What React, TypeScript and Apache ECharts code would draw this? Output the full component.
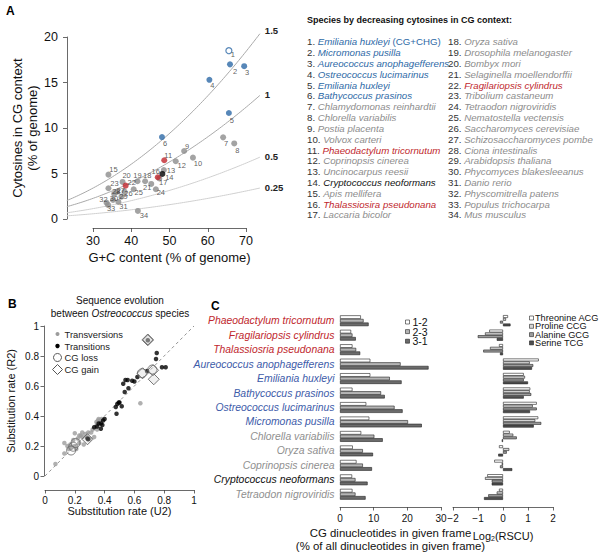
import React, { useEffect, useRef } from 'react';
import * as echarts from 'echarts';

const FONT = '"Liberation Sans", Arial, Helvetica, sans-serif';

// ---------------- Panel A data ----------------
const speciesNames = [
  'Emiliania huxleyi', 'Micromonas pusilla', 'Aureococcus anophagefferens', 'Ostreococcus lucimarinus',
  'Emiliania huxleyi', 'Bathycoccus prasinos', 'Chlamydomonas reinhardtii', 'Chlorella variabilis',
  'Postia placenta', 'Volvox carteri', 'Phaeodactylum tricornutum', 'Coprinopsis cinerea',
  'Uncinocarpus reesii', 'Cryptococcus neoformans', 'Apis mellifera', 'Thalassiosira pseudonana',
  'Laccaria bicolor', 'Oryza sativa', 'Drosophila melanogaster', 'Bombyx mori',
  'Selaginella moellendorffii', 'Fragilariopsis cylindrus', 'Tribolium castaneum', 'Tetraodon nigroviridis',
  'Nematostella vectensis', 'Saccharomyces cerevisiae', 'Schizosaccharomyces pombe', 'Ciona intestinalis',
  'Arabidopsis thaliana', 'Phycomyces blakesleeanus', 'Danio rerio', 'Physcomitrella patens',
  'Populus trichocarpa', 'Mus musculus',
];
const firstSpeciesNote = '(CG+CHG)';
const speciesGroup = [
  'open', 'blue', 'blue', 'blue', 'blue', 'blue', 'grey', 'grey', 'grey', 'grey',
  'red', 'grey', 'grey', 'black', 'grey', 'red', 'grey', 'grey', 'grey', 'grey',
  'grey', 'red', 'grey', 'grey', 'grey', 'grey', 'grey', 'grey', 'grey', 'grey',
  'grey', 'grey', 'grey', 'grey',
];
const gcContent = [
  65.6, 65.9, 69.6, 60.5, 65.6, 48.1, 64.1, 67.0, 53.9, 56.2,
  48.7, 51.7, 48.6, 48.2, 34.1, 47.0, 47.4, 43.7, 41.7, 37.8,
  45.3, 38.6, 34.1, 46.5, 40.7, 38.3, 36.3, 35.6, 37.5, 35.3,
  36.7, 33.6, 34.0, 41.8,
];
const cgCytosines = [
  18.5, 17.0, 16.8, 15.3, 11.65, 9.0, 8.97, 8.3, 7.47, 6.74,
  6.45, 6.34, 5.38, 4.95, 4.87, 4.58, 4.45, 4.14, 4.14, 4.07,
  3.85, 3.66, 3.37, 3.26, 3.26, 3.0, 2.98, 2.75, 2.45, 2.09,
  1.87, 1.79, 1.54, 0.88,
];
// label offsets (px) of the point numbers, relative to each dot
const pointLabelOffsets = [
  [4, 4], [5, 7], [3, 6], [3, 6], [3, 7], [3, 6], [3, 6], [3, 7], [3, -5], [5, 6],
  [4, -5], [6, 4], [7, 0], [7, 4], [5, -5], [-2, -6], [4, 4], [2, -6], [0, -6], [4, -6],
  [-4, 4], [6, -3], [6, -5], [5, 3], [5, 3], [4, 2], [4, -1], [2, -2], [2, 0], [1, -1],
  [5, 5], [-3, -3], [3, 4], [6, 5],
];
const cgRatios = [1.5, 1, 0.5, 0.25];
const gcCurveRange = [23.2, 74];

// ---------------- Panel B data ----------------
const transversions = [
  [0.07, 0.08], [0.13, 0.15], [0.13, 0.22], [0.15, 0.2], [0.16, 0.18], [0.17, 0.21], [0.18, 0.19],
  [0.19, 0.24], [0.2, 0.285], [0.2, 0.2], [0.21, 0.18], [0.22, 0.25], [0.23, 0.22], [0.24, 0.27],
  [0.25, 0.26], [0.26, 0.21], [0.27, 0.28], [0.28, 0.26], [0.29, 0.29], [0.3, 0.25], [0.31, 0.29],
  [0.33, 0.26], [0.34, 0.33], [0.35, 0.35], [0.355, 0.37], [0.36, 0.38], [0.37, 0.37], [0.38, 0.38],
  [0.345, 0.36], [0.32, 0.31], [0.35, 0.31], [0.64, 0.485], [0.23, 0.27], [0.25, 0.29],
];
const transitions = [
  [0.69, 0.905], [0.75, 0.82], [0.745, 0.78], [0.785, 0.725], [0.81, 0.725], [0.685, 0.7],
  [0.62, 0.66], [0.585, 0.635], [0.6, 0.63], [0.54, 0.64], [0.555, 0.64], [0.525, 0.615],
  [0.56, 0.585], [0.535, 0.56], [0.5, 0.49], [0.485, 0.48], [0.515, 0.465], [0.475, 0.46],
  [0.495, 0.49], [0.48, 0.415], [0.4, 0.38], [0.39, 0.37], [0.375, 0.35], [0.36, 0.35],
  [0.385, 0.34], [0.375, 0.315], [0.33, 0.325], [0.35, 0.33], [0.29, 0.245], [0.285, 0.25],
];
const cgLoss = [[0.175, 0.17], [0.19, 0.195], [0.205, 0.22], [0.65, 0.685], [0.72, 0.71]];
const cgGain = [[0.69, 0.905], [0.69, 0.91], [0.655, 0.685], [0.725, 0.705], [0.73, 0.645], [0.285, 0.245]];
const bAxisTicks = [0, 0.2, 0.4, 0.6, 0.8, 1];

// ---------------- Panel C data ----------------
const cSpecies = [
  'Phaeodactylum tricornutum', 'Fragilariopsis cylindrus', 'Thalassiosria pseudonana',
  'Aureococcus anophagefferens', 'Emiliania huxleyi', 'Bathycoccus prasinos',
  'Ostreococcus lucimarinus', 'Micromonas pusilla', 'Chlorella variabilis', 'Oryza sativa',
  'Coprinopsis cinerea', 'Cryptococcus neoformans', 'Tetraodon nigroviridis',
];
const cSpeciesGroup = ['red', 'red', 'red', 'blue', 'blue', 'blue', 'blue', 'blue', 'grey', 'grey', 'grey', 'black', 'grey'];
const frameNames = ['1-2', '2-3', '3-1'];
const frame12 = [6.2, 3.3, 3.7, 9.0, 9.0, 3.7, 7.8, 8.7, 6.3, 3.8, 4.9, 3.6, 3.7];
const frame23 = [7.0, 3.7, 4.8, 18.0, 14.8, 12.2, 16.2, 20.2, 10.2, 6.8, 6.8, 4.6, 4.6];
const frame31 = [8.5, 4.7, 6.0, 26.3, 18.3, 13.3, 18.6, 24.3, 12.7, 9.8, 9.5, 8.2, 7.6];
const codonNames = ['Threonine ACG', 'Proline CCG', 'Alanine GCG', 'Serine TCG'];
const rscuThr = [0.2, -0.55, -0.16, 1.43, 0.83, 1.09, 1.35, 1.41, 0.27, -0.16, -0.35, -0.63, -0.16];
const rscuPro = [0.12, -0.72, -0.52, 1.07, 0.88, 1.07, 1.19, 1.29, 0.41, 0.25, -0.05, -0.72, -0.25];
const rscuAla = [-0.12, -1.01, -0.79, 1.21, 0.83, 1.13, 1.35, 1.53, 0.55, 0.15, -0.12, -0.45, -0.59];
const rscuSer = [0.3, -0.25, -0.12, 1.16, 1.0, 0.83, 1.08, 1.23, -0.05, -0.19, 0.37, -0.45, -0.76];

// ---------------- styles ----------------
const COLORS: Record<string, string> = {
  blue: '#2d69a6', grey: '#8c8c8c', red: '#c0272d', black: '#000000', open: '#2d69a6',
};
const C_COLORS: Record<string, string> = {
  blue: '#3d5ba9', grey: '#8f8f8f', red: '#c0272d', black: '#111111',
};
const AX = { color: '#444', width: 0.8 };
const TXT = '#111';
const LEG_FS = 9.7;
const C_LAB_FS = 10.4;

let measureCtx: CanvasRenderingContext2D | null = null;
function textWidth(text: string, fontSize: number, style = 'normal') {
  if (!measureCtx) measureCtx = document.createElement('canvas').getContext('2d');
  if (!measureCtx) return text.length * fontSize * 0.55;
  measureCtx.font = `${style} ${fontSize}px ${FONT}`;
  return measureCtx.measureText(text).width;
}

function shownAxis(extra: any) {
  return {
    type: 'value',
    splitLine: { show: false },
    axisLine: { show: true, onZero: false, lineStyle: AX },
    axisTick: { show: true, length: 4, lineStyle: AX },
    axisLabel: { color: TXT, fontFamily: FONT, fontSize: 12.5 },
    nameTextStyle: { color: TXT, fontFamily: FONT },
    ...extra,
  };
}
function hiddenAxis(gridIndex: number, min: number, max: number) {
  return { type: 'value', show: false, gridIndex, min, max };
}
const minusFmt = (v: number) => (v < 0 ? '\u2212' + Math.abs(v) : String(v));

function buildOption() {
  // ----- panel A series -----
  const groups = ['grey', 'blue', 'red', 'black', 'open'];
  const aScatter = groups.map((g) => ({
    type: 'scatter',
    xAxisIndex: 0,
    yAxisIndex: 0,
    symbolSize: 6,
    z: 4,
    itemStyle: g === 'open'
      ? { color: '#ffffff', borderColor: COLORS.open, borderWidth: 1.2 }
      : { color: COLORS[g] },
    label: {
      show: true, position: 'inside', formatter: '{b}', fontSize: 7.5, color: '#333', fontFamily: FONT,
    },
    data: speciesNames
      .map((_, i) => i)
      .filter((i) => speciesGroup[i] === g)
      .map((i) => ({
        name: String(i + 1),
        value: [gcContent[i], cgCytosines[i]],
        label: { offset: pointLabelOffsets[i] },
      })),
  }));
  const curveXs: number[] = [];
  for (let g = gcCurveRange[0]; g <= gcCurveRange[1] + 1e-9; g += 0.5) curveXs.push(g);
  const aCurves = cgRatios.map((r, k) => ({
    type: 'line',
    xAxisIndex: 0,
    yAxisIndex: 0,
    silent: true,
    symbol: 'none',
    z: 1,
    lineStyle: { color: k < 2 ? '#a9a9a9' : '#d0d0d0', width: 1 },
    data: curveXs.map((g) => [g, (r * (g / 2) * (g / 2)) / 100]),
    endLabel: {
      show: true, formatter: String(r), fontWeight: 'bold', fontSize: 9.5, color: '#222',
      fontFamily: FONT, distance: 5, offset: [0, k === 0 ? -3 : -1],
    },
  }));

  // ----- panel B series -----
  const bSeries = [
    {
      type: 'line', xAxisIndex: 3, yAxisIndex: 3, symbol: 'none', silent: true, z: 1,
      lineStyle: { color: '#777', width: 0.8, type: [3, 3] },
      data: [[bAxisTicks[0], bAxisTicks[0]], [bAxisTicks[5], bAxisTicks[5]]],
    },
    {
      type: 'scatter', xAxisIndex: 3, yAxisIndex: 3, symbolSize: 4.5, z: 2,
      itemStyle: { color: '#9c9c9c' }, data: transversions,
    },
    {
      type: 'scatter', xAxisIndex: 3, yAxisIndex: 3, symbolSize: 4.5, z: 3,
      itemStyle: { color: '#000' }, data: transitions,
    },
    {
      type: 'scatter', xAxisIndex: 3, yAxisIndex: 3, symbol: 'circle', symbolSize: 9, z: 4,
      itemStyle: { color: 'rgba(255,255,255,0)', borderColor: '#666', borderWidth: 1 }, data: cgLoss,
    },
    {
      type: 'scatter', xAxisIndex: 3, yAxisIndex: 3, symbol: 'diamond', symbolSize: 11, z: 5,
      itemStyle: { color: 'rgba(200,200,200,0.35)', borderColor: '#555', borderWidth: 1 }, data: cgGain,
    },
  ];

  // ----- panel C series -----
  const leftVals = [frame12, frame23, frame31];
  const leftCols = ['#ffffff', '#b5b5b5', '#6b6b6b'];
  const cLeft = leftVals.map((vals, k) => ({
    type: 'bar', name: frameNames[k], xAxisIndex: 4, yAxisIndex: 4,
    barWidth: 3.6, barGap: '0%',
    itemStyle: { color: leftCols[k], borderColor: '#222', borderWidth: 0.6 },
    data: vals,
  }));
  const rightVals = [rscuThr, rscuPro, rscuAla, rscuSer];
  const rightCols = ['#ffffff', '#d4d4d4', '#9c9c9c', '#4e4e4e'];
  const cRight = rightVals.map((vals, k) => ({
    type: 'bar', name: codonNames[k], xAxisIndex: 5, yAxisIndex: 5,
    barWidth: 2.8, barGap: '0%',
    itemStyle: { color: rightCols[k], borderColor: '#222', borderWidth: 0.6 },
    data: vals,
  }));

  // ----- graphics -----
  const graphics: any[] = [];
  const panelLetter = (t: string, x: number, y: number) => ({
    type: 'text', x, y,
    style: { text: t, fontSize: 12, fontWeight: 'bold', fill: '#000', fontFamily: FONT, verticalAlign: 'middle' },
  });
  graphics.push(panelLetter('A', 6, 11), panelLetter('B', 8, 304), panelLetter('C', 211, 306));

  // species legend
  graphics.push({
    type: 'text', x: 307, y: 20,
    style: {
      text: 'Species by decreasing cytosines in CG context:', fontSize: 9, fontWeight: 'bold',
      fill: '#111', fontFamily: FONT, verticalAlign: 'middle',
    },
  });
  speciesNames.forEach((nm, i) => {
    const col = i < 17 ? 0 : 1;
    const row = i % 17;
    const g = speciesGroup[i];
    const color = g === 'black' ? '#111111' : COLORS[g];
    const x0 = col === 0 ? 307 : 448;
    const y = 41.7 + row * 10.83;
    const numTxt = `${i + 1}. `;
    const nameX = x0 + textWidth(numTxt, LEG_FS);
    graphics.push({
      type: 'text', x: x0, y,
      style: { text: numTxt, fontFamily: FONT, fontSize: LEG_FS, verticalAlign: 'middle', fill: '#333333' },
    });
    graphics.push({
      type: 'text', x: nameX, y,
      style: { text: nm, fontFamily: FONT, fontSize: LEG_FS, fontStyle: 'italic', verticalAlign: 'middle', fill: color },
    });
    if (i === 0) {
      const noteX = nameX + textWidth(nm + ' ', LEG_FS, 'italic');
      graphics.push({
        type: 'text', x: noteX, y,
        style: { text: firstSpeciesNote, fontFamily: FONT, fontSize: LEG_FS, verticalAlign: 'middle', fill: color },
      });
    }
  });

  // panel B title
  graphics.push({
    type: 'text', x: 120, y: 300,
    style: { text: 'Sequence evolution', fontSize: 10, fill: TXT, fontFamily: FONT, align: 'center', verticalAlign: 'middle' },
  });
  graphics.push({
    type: 'text', x: 120, y: 313.5,
    style: {
      text: 'between {it|Ostreococcus} species', fontSize: 10, fill: TXT, fontFamily: FONT,
      align: 'center', verticalAlign: 'middle',
      rich: { it: { fontStyle: 'italic', fontSize: 10, fill: TXT, fontFamily: FONT } },
    },
  });
  // panel B legend
  const bLeg = [
    { label: 'Transversions', y: 334 },
    { label: 'Transitions', y: 346 },
    { label: 'CG loss', y: 357.5 },
    { label: 'CG gain', y: 369.5 },
  ];
  graphics.push({ type: 'circle', shape: { cx: 57.5, cy: bLeg[0].y, r: 2 }, style: { fill: '#9c9c9c' } });
  graphics.push({ type: 'circle', shape: { cx: 57.5, cy: bLeg[1].y, r: 2.2 }, style: { fill: '#000' } });
  graphics.push({ type: 'circle', shape: { cx: 57.5, cy: bLeg[2].y, r: 4 }, style: { fill: 'none', stroke: '#555', lineWidth: 1 } });
  graphics.push({
    type: 'polygon',
    shape: { points: [[57.5, bLeg[3].y - 5], [62.5, bLeg[3].y], [57.5, bLeg[3].y + 5], [52.5, bLeg[3].y]] },
    style: { fill: 'none', stroke: '#555', lineWidth: 1 },
  });
  bLeg.forEach((l) => graphics.push({
    type: 'text', x: 64.5, y: l.y,
    style: { text: l.label, fontSize: 9.4, fill: '#222', fontFamily: FONT, verticalAlign: 'middle' },
  }));

  // panel C legends
  frameNames.forEach((nm, k) => {
    const y = 322 + k * 9.6;
    graphics.push({ type: 'rect', shape: { x: 405.5, y: y - 2, width: 4, height: 4 }, style: { fill: leftCols[k], stroke: '#222', lineWidth: 0.6 } });
    graphics.push({ type: 'text', x: 412.5, y, style: { text: nm, fontSize: 10.5, fill: TXT, fontFamily: FONT, verticalAlign: 'middle' } });
  });
  codonNames.forEach((nm, k) => {
    const y = 318 + k * 8.3;
    graphics.push({ type: 'rect', shape: { x: 529.5, y: y - 2, width: 4, height: 4 }, style: { fill: rightCols[k], stroke: '#222', lineWidth: 0.6 } });
    graphics.push({ type: 'text', x: 535, y, style: { text: nm, fontSize: 9.2, fill: TXT, fontFamily: FONT, verticalAlign: 'middle' } });
  });

  const cRich = (c: string) => ({ color: c, fontStyle: 'italic', fontSize: C_LAB_FS, fontFamily: FONT });

  return {
    animation: false,
    backgroundColor: '#ffffff',
    textStyle: { fontFamily: FONT },
    grid: [
      { left: 66, top: 28, width: 195, height: 200 },   // 0 A data
      { left: 93, top: 28, width: 153, height: 200 },   // 1 A x-axis
      { left: 67, top: 37, width: 195, height: 182 },   // 2 A y-axis
      { left: 45, top: 326, width: 149, height: 150 },  // 3 B
      { left: 340, top: 313.5, width: 101, height: 188 }, // 4 C left
      { left: 453, top: 313.5, width: 100, height: 188 }, // 5 C right
    ],
    xAxis: [
      hiddenAxis(0, 23, 74),
      shownAxis({
        gridIndex: 1, min: 30, max: 70, interval: 10,
        axisLabel: { color: TXT, fontFamily: FONT, fontSize: 12.5, margin: 6 },
        name: 'G+C content (% of genome)', nameLocation: 'middle', nameGap: 23,
        nameTextStyle: { color: TXT, fontFamily: FONT, fontSize: 13 },
      }),
      hiddenAxis(2, 0, 1),
      shownAxis({
        gridIndex: 3, min: 0, max: 1, interval: 0.2, offset: 14,
        axisTick: { show: true, length: 3.5, lineStyle: AX },
        axisLabel: { color: TXT, fontFamily: FONT, fontSize: 10, margin: 5 },
        name: 'Substitution rate (U2)', nameLocation: 'middle', nameGap: 13,
        nameTextStyle: { color: TXT, fontFamily: FONT, fontSize: 11 },
      }),
      shownAxis({
        gridIndex: 4, min: 0, max: 30, interval: 10, offset: 5.5,
        axisTick: { show: true, length: 3.5, lineStyle: AX },
        axisLabel: { color: TXT, fontFamily: FONT, fontSize: 10, margin: 6 },
        name: 'CG dinucleotides in given frame\n(% of all dinucleotides in given frame)',
        nameLocation: 'middle', nameGap: 19,
        nameTextStyle: { color: TXT, fontFamily: FONT, fontSize: 11.4, lineHeight: 13.5 },
      }),
      shownAxis({
        gridIndex: 5, min: -2, max: 2, interval: 1, offset: 5.5,
        axisTick: { show: true, length: 3.5, lineStyle: AX },
        axisLabel: { color: TXT, fontFamily: FONT, fontSize: 10, margin: 6, formatter: minusFmt },
        name: 'Log{sub|2}(RSCU)', nameLocation: 'middle', nameGap: 22,
        nameTextStyle: {
          color: TXT, fontFamily: FONT, fontSize: 11,
          rich: { sub: { fontSize: 7, color: TXT, fontFamily: FONT, padding: [6, 0, 0, 0] } },
        },
      }),
    ],
    yAxis: [
      hiddenAxis(0, -1, 21),
      hiddenAxis(1, 0, 1),
      shownAxis({
        gridIndex: 2, min: 0, max: 20, interval: 5,
        axisLabel: { color: TXT, fontFamily: FONT, fontSize: 12.5, margin: 9 },
        name: 'Cytosines in CG context\n(% of genome)', nameLocation: 'middle', nameRotate: 90, nameGap: 27,
        nameTextStyle: { color: TXT, fontFamily: FONT, fontSize: 13, lineHeight: 15 },
      }),
      shownAxis({
        gridIndex: 3, min: 0, max: 1, interval: 0.2, offset: 1,
        axisTick: { show: true, length: 3.5, lineStyle: AX },
        axisLabel: { color: TXT, fontFamily: FONT, fontSize: 10, margin: 5 },
        name: 'Substitution rate (R2)', nameLocation: 'middle', nameRotate: 90, nameGap: 28,
        nameTextStyle: { color: TXT, fontFamily: FONT, fontSize: 11 },
      }),
      {
        type: 'category', gridIndex: 4, inverse: true, data: cSpecies,
        axisLine: { show: false }, axisTick: { show: false }, splitLine: { show: false },
        axisLabel: {
          margin: 5.5, fontSize: C_LAB_FS, fontStyle: 'italic', fontFamily: FONT, interval: 0,
          formatter: (v: string, i: number) => `{c${cSpeciesGroup[i]}|${v}}`,
          rich: {
            cred: cRich(C_COLORS.red),
            cblue: cRich(C_COLORS.blue),
            cgrey: cRich(C_COLORS.grey),
            cblack: cRich(C_COLORS.black),
          },
        },
      },
      {
        type: 'category', gridIndex: 5, inverse: true, data: cSpecies,
        axisLine: { show: false }, axisTick: { show: false }, axisLabel: { show: false }, splitLine: { show: false },
      },
    ],
    graphic: graphics,
    series: [...aCurves, ...aScatter, ...bSeries, ...cLeft, ...cRight],
  };
}

export default function App() {
  const ref = useRef<HTMLDivElement>(null);
  useEffect(() => {
    if (!ref.current) return;
    const chart = echarts.init(ref.current, null, { renderer: 'svg' });
    chart.setOption(buildOption() as any);
    return () => chart.dispose();
  }, []);
  return (
    <div
      ref={ref}
      style={{ position: 'fixed', left: 0, top: 0, width: 602, height: 556, background: '#fff' }}
    />
  );
}
